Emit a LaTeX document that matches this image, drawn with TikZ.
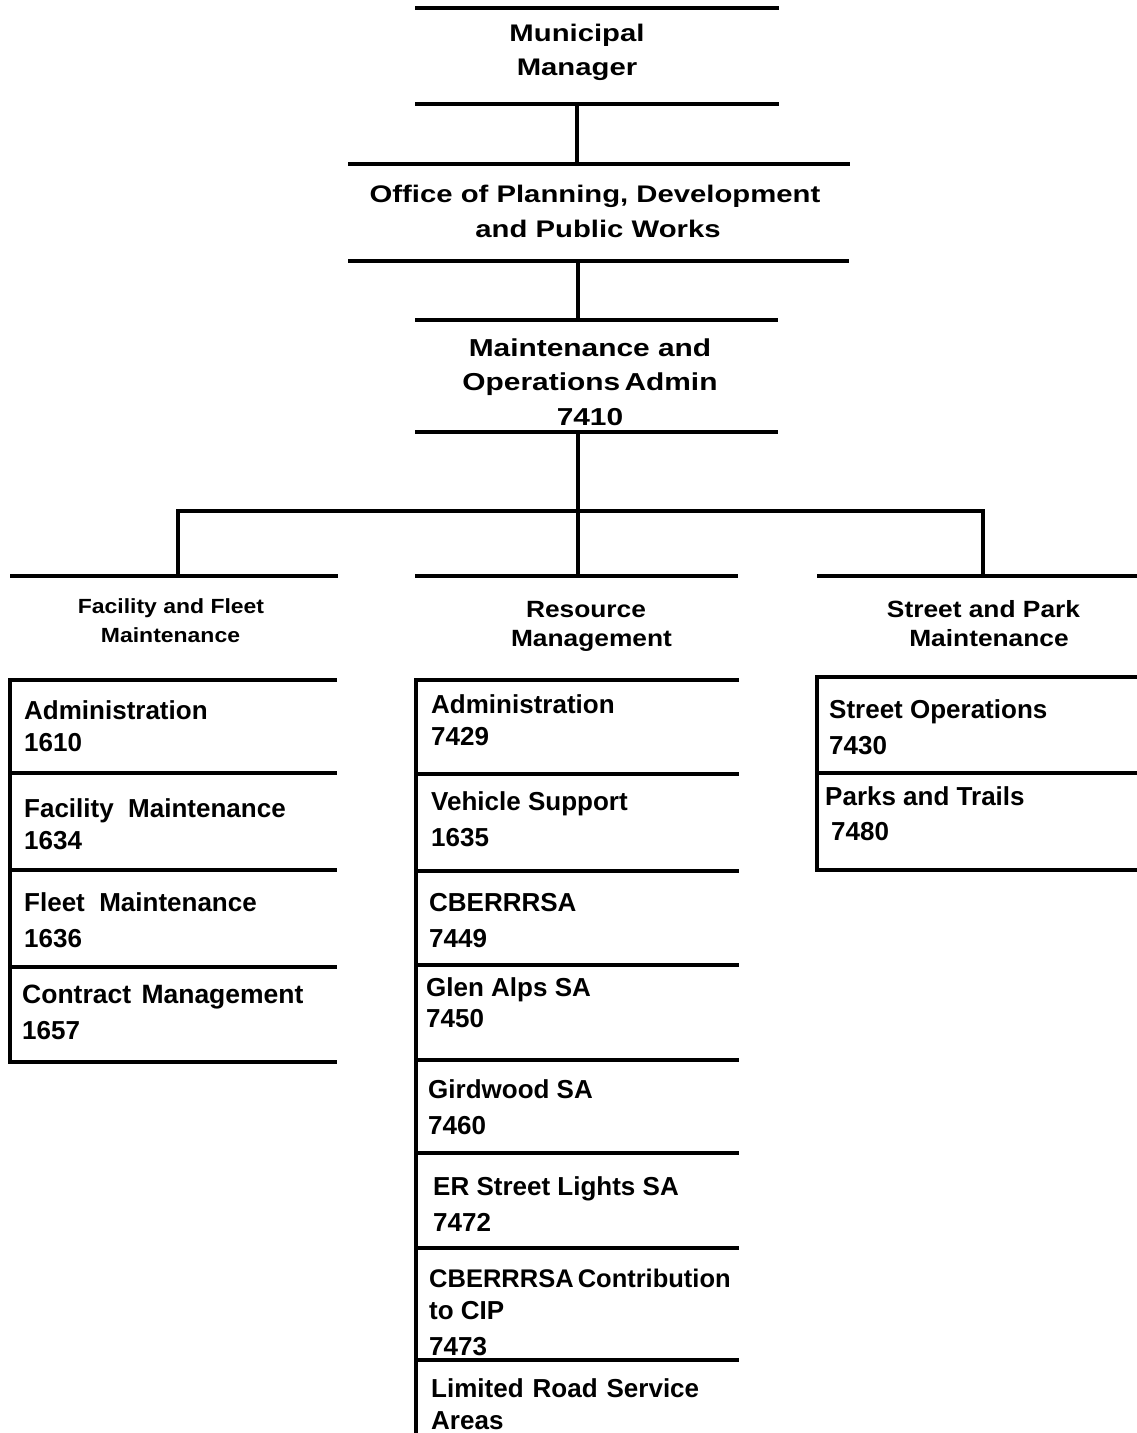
\documentclass[tikz,border=0pt]{standalone}
\usepackage{fontspec}
\setmainfont{Liberation Sans}
\newfontfamily\wideA{Liberation Sans}[FakeStretch=1.22]
\newfontfamily\wideB{Liberation Sans}[FakeStretch=1.12]
\begin{document}
\begin{tikzpicture}[x=1pt,y=-1pt,
  rule/.style={line width=4.5pt, line join=miter},
  topt/.style={font={\wideA\bfseries\fontsize{24}{29}\selectfont}, anchor=base, inner sep=0pt},
  midt/.style={font={\wideA\bfseries\fontsize{24.5}{29}\selectfont}, anchor=base, inner sep=0pt},
  hdt/.style={font={\wideB\bfseries\fontsize{23.5}{28}\selectfont}, anchor=base, inner sep=0pt},
  hdl/.style={font={\wideB\bfseries\fontsize{20.5}{24}\selectfont}, anchor=base, inner sep=0pt},
  bt/.style={font={\bfseries\fontsize{26}{30}\selectfont}, anchor=base west, inner sep=0pt},
]
\useasboundingbox (0,0) rectangle (1137,1433);

% ---- top boxes ----
\draw[rule] (415,8) -- (779,8);
\draw[rule] (415,104) -- (779,104);
\node[topt] (mm1) at (577,41) {Municipal};
\node[topt] (mm2) at (577,75) {Manager};
\coordinate (mmb) at (577,104);

\draw[rule] (348,164) -- (850,164);
\draw[rule] (348,261) -- (849,261);
\coordinate (opt) at (577,164);
\coordinate (opb) at (578,261);
\node[topt] (op1) at (595,202) {Office of Planning, Development};
\node[topt] (op2) at (598,237) {and Public Works};

\draw[rule] (415,320) -- (778,320);
\draw[rule] (415,432) -- (778,432);
\coordinate (mot) at (578,320);
\coordinate (mob) at (578,432);
\node[midt] (mo1) at (590,356) {Maintenance and};
\node[midt] (mo2) at (590,390) {Operations\hspace{-4pt} Admin};
\node[midt] (mo3) at (590,425) {7410};

\draw[rule] (mmb) -- (opt);
\draw[rule] (opb) -- (mot);

% ---- branch ----
\coordinate (ffh) at (178,576);
\coordinate (rmh) at (578,576);
\coordinate (sph) at (983,576);
\draw[rule] (mob) -- (rmh);
\draw[rule] (ffh) -- (178,511) -- (983,511) -- (sph);

% column header lines
\draw[rule] (10,576) -- (338,576);
\draw[rule] (415,576) -- (738,576);
\draw[rule] (817,576) -- (1137,576);

\node[hdl] (ff1) at (171,613) {Facility and Fleet};
\node[hdl] (ff2) at (170.5,642) {Maintenance};
\node[hdt] (rm1) at (586,617) {Resource};
\node[hdt] (rm2) at (591.5,646) {Management};
\node[hdt] (sp1) at (983.5,617) {Street and Park};
\node[hdt] (sp2) at (989,646) {Maintenance};

% ---- left column ----
\draw[rule] (337,680) -- (10,680) -- (10,1062) -- (337,1062);
\draw[rule] (10,773) -- (337,773);
\draw[rule] (10,870) -- (337,870);
\draw[rule] (10,967) -- (337,967);
\node[bt] (l1a) at (24,719) {Administration};
\node[bt] (l1b) at (24,751) {1610};
\node[bt] (l2a) at (24,817) {Facility\ \ Maintenance};
\node[bt] (l2b) at (24,849) {1634};
\node[bt] (l3a) at (24,911) {Fleet\ \ Maintenance};
\node[bt] (l3b) at (24,947) {1636};
\node[bt, font={\bfseries\fontsize{26.5}{30}\selectfont}] (l4a) at (22,1003) {Contract\hspace{3pt} Management};
\node[bt] (l4b) at (22,1039) {1657};

% ---- middle column ----
\draw[rule] (739,680) -- (416,680) -- (416,1433);
\foreach \yy in {774,871,965,1060,1153,1248,1360}
  \draw[rule] (416,\yy) -- (739,\yy);
\node[bt] (m1a) at (431,713) {Administration};
\node[bt] (m1b) at (431,745) {7429};
\node[bt] (m2a) at (431,810) {Vehicle Support};
\node[bt] (m2b) at (431,846) {1635};
\node[bt] (m3a) at (429,911) {CBERRRSA};
\node[bt] (m3b) at (429,947) {7449};
\node[bt] (m4a) at (426,996) {Glen Alps SA};
\node[bt] (m4b) at (426,1027) {7450};
\node[bt] (m5a) at (428,1098) {Girdwood SA};
\node[bt] (m5b) at (428,1134) {7460};
\node[bt] (m6a) at (433,1195) {ER Street Lights SA};
\node[bt] (m6b) at (433,1231) {7472};
\node[bt, font={\bfseries\fontsize{25.5}{30}\selectfont}] (m7a) at (429,1287) {CBERRRSA\hspace{-3pt} Contribution};
\node[bt] (m7b) at (429,1319) {to CIP};
\node[bt] (m7c) at (429,1355) {7473};
\node[bt] (m8a) at (431,1397) {Limited\hspace{9pt}Road\hspace{9pt}Service};
\node[bt] (m8b) at (431,1429) {Areas};

% ---- right column ----
\draw[rule] (1137,677) -- (817,677) -- (817,870) -- (1137,870);
\draw[rule] (817,773) -- (1137,773);
\node[bt] (r1a) at (829,718) {Street Operations};
\node[bt] (r1b) at (829,754) {7430};
\node[bt] (r2a) at (825,805) {Parks and Trails};
\node[bt] (r2b) at (831,840) {7480};
\end{tikzpicture}
\end{document}
